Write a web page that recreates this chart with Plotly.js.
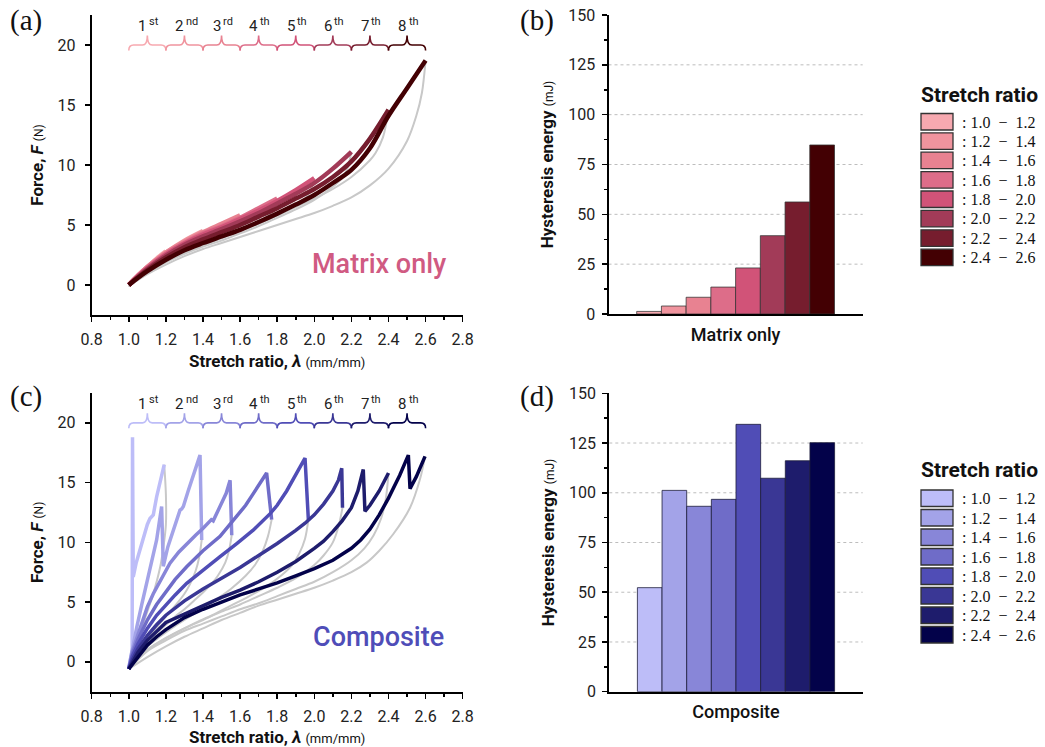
<!DOCTYPE html>
<html>
<head>
<meta charset="utf-8">
<script src="https://cdn.plot.ly/plotly-3.0.1.min.js"></script>
<style>
html,body{margin:0;padding:0;background:#fff;}
#chart{width:1045px;height:747px;}
</style>
</head>
<body>
<div id="chart"></div>
<script>
// ---------------- DATA ----------------
const stretchBounds = [1.0, 1.2, 1.4, 1.6, 1.8, 2.0, 2.2, 2.4, 2.6];
const stretchRanges = ['1.0\u2002\u2212\u20021.2', '1.2\u2002\u2212\u20021.4', '1.4\u2002\u2212\u20021.6', '1.6\u2002\u2212\u20021.8',
                       '1.8\u2002\u2212\u20022.0', '2.0\u2002\u2212\u20022.2', '2.2\u2002\u2212\u20022.4', '2.4\u2002\u2212\u20022.6'];
const cycleNumbers = ['1', '2', '3', '4', '5', '6', '7', '8'];
const cycleSuffixes = ['st', 'nd', 'rd', 'th', 'th', 'th', 'th', 'th'];
const matrixColors = ['#f7a9b0', '#f0949e', '#e88291', '#dd6d89', '#d15378', '#a23b58', '#761d2e', '#430003'];
const compositeColors = ['#bdbdf8', '#a3a3e8', '#8886d8', '#6f6cc8', '#504db6', '#3a3795', '#1e1c6c', '#03024a'];

const matrixEnergy = [1.3, 4.0, 8.4, 13.5, 23.1, 39.3, 56.2, 84.8];
const compositeEnergy = [52.3, 101.2, 93.2, 96.7, 134.4, 107.3, 116.1, 125.2];

// Matrix only: loading curves (coloured)
const matrixLoadLambda = [
  [1.0, 1.05, 1.1, 1.15, 1.2],
  [1.0, 1.05, 1.1, 1.2, 1.3, 1.4],
  [1.0, 1.05, 1.1, 1.2, 1.3, 1.4, 1.5, 1.6],
  [1.0, 1.05, 1.1, 1.2, 1.3, 1.4, 1.5, 1.6, 1.7, 1.8],
  [1.0, 1.05, 1.1, 1.2, 1.3, 1.4, 1.5, 1.6, 1.7, 1.8, 1.9, 2.0],
  [1.0, 1.05, 1.1, 1.2, 1.3, 1.4, 1.5, 1.6, 1.7, 1.8, 1.9, 2.0, 2.1, 2.2],
  [1.0, 1.05, 1.1, 1.2, 1.3, 1.4, 1.5, 1.6, 1.7, 1.8, 1.9, 2.0, 2.1, 2.2, 2.3, 2.4],
  [1.0, 1.05, 1.1, 1.2, 1.3, 1.4, 1.5, 1.6, 1.7, 1.8, 1.9, 2.0, 2.1, 2.2, 2.3, 2.4, 2.5, 2.6]
];
const matrixLoadForce = [
  [0, 0.8, 1.5, 2.2, 2.8],
  [0, 0.8, 1.5, 2.7, 3.7, 4.5],
  [0, 0.8, 1.5, 2.7, 3.6, 4.4, 5.1, 5.8],
  [0, 0.75, 1.45, 2.6, 3.5, 4.3, 4.9, 5.6, 6.4, 7.2],
  [0, 0.75, 1.4, 2.55, 3.45, 4.2, 4.8, 5.5, 6.2, 7.0, 7.9, 8.9],
  [0, 0.7, 1.35, 2.45, 3.35, 4.05, 4.65, 5.3, 6.0, 6.8, 7.6, 8.5, 9.7, 11.1],
  [0, 0.65, 1.25, 2.3, 3.15, 3.8, 4.4, 5.0, 5.7, 6.4, 7.2, 8.0, 9.0, 10.3, 12.2, 14.6],
  [0, 0.6, 1.15, 2.1, 2.9, 3.5, 4.05, 4.6, 5.25, 5.95, 6.7, 7.5, 8.5, 9.6, 11.4, 14.1, 16.4, 18.7]
];
// Matrix only: unloading curves (grey)
const matrixUnloadLambda = [
  [1.2, 1.18, 1.15, 1.1, 1.05, 1.0],
  [1.4, 1.38, 1.35, 1.3, 1.2, 1.1, 1.0],
  [1.6, 1.58, 1.55, 1.5, 1.4, 1.3, 1.2, 1.1, 1.0],
  [1.8, 1.78, 1.75, 1.7, 1.6, 1.5, 1.4, 1.3, 1.2, 1.1, 1.0],
  [2.0, 1.98, 1.95, 1.9, 1.8, 1.7, 1.6, 1.5, 1.4, 1.3, 1.2, 1.1, 1.0],
  [2.2, 2.18, 2.15, 2.1, 2.0, 1.9, 1.8, 1.7, 1.6, 1.5, 1.4, 1.3, 1.2, 1.1, 1.0],
  [2.4, 2.37, 2.33, 2.3, 2.2, 2.1, 2.0, 1.9, 1.8, 1.7, 1.6, 1.5, 1.4, 1.3, 1.2, 1.1, 1.0],
  [2.6, 2.58, 2.55, 2.5, 2.4, 2.3, 2.2, 2.1, 2.0, 1.9, 1.8, 1.7, 1.6, 1.5, 1.4, 1.3, 1.2, 1.1, 1.0]
];
const matrixUnloadForce = [
  [2.8, 2.3, 1.8, 1.2, 0.5, -0.1],
  [4.5, 3.8, 3.3, 2.9, 2.2, 1.2, -0.1],
  [5.8, 5.0, 4.5, 4.1, 3.5, 2.9, 2.2, 1.2, -0.1],
  [7.2, 6.3, 5.8, 5.3, 4.6, 4.0, 3.4, 2.8, 2.1, 1.2, -0.1],
  [8.9, 7.9, 7.2, 6.6, 5.8, 5.1, 4.5, 3.9, 3.3, 2.7, 2.0, 1.1, -0.1],
  [11.1, 9.8, 8.9, 8.2, 7.1, 6.3, 5.6, 4.9, 4.3, 3.7, 3.2, 2.6, 1.9, 1.0, -0.1],
  [14.6, 12.3, 11.0, 10.4, 9.0, 8.0, 7.2, 6.5, 5.8, 5.2, 4.6, 4.0, 3.4, 2.7, 1.9, 1.0, -0.1],
  [18.7, 16.0, 14.1, 12.0, 9.7, 8.3, 7.3, 6.6, 6.0, 5.5, 5.0, 4.5, 4.0, 3.5, 3.0, 2.4, 1.7, 0.9, -0.1]
];

// Composite: loading curves (coloured)
const compLoadLambda = [
  [1.0, 1.018, 1.02, 1.022, 1.024, 1.04, 1.06, 1.08, 1.10, 1.114, 1.122, 1.132, 1.15, 1.17, 1.191],
  [1.0, 1.02, 1.043, 1.07, 1.097, 1.125, 1.15, 1.177, 1.186, 1.21, 1.24, 1.276, 1.285, 1.294, 1.32, 1.339, 1.36, 1.384, 1.393],
  [1.0, 1.02, 1.05, 1.1, 1.132, 1.18, 1.222, 1.27, 1.312, 1.36, 1.402, 1.43, 1.445, 1.455, 1.5, 1.525, 1.546, 1.555],
  [1.0, 1.02, 1.05, 1.1, 1.15, 1.2, 1.25, 1.312, 1.4, 1.492, 1.582, 1.63, 1.672, 1.71, 1.743, 1.77],
  [1.0, 1.02, 1.05, 1.1, 1.15, 1.2, 1.25, 1.312, 1.4, 1.492, 1.582, 1.672, 1.762, 1.8, 1.851, 1.9, 1.95, 1.968],
  [1.0, 1.02, 1.05, 1.1, 1.15, 1.2, 1.3, 1.4, 1.5, 1.6, 1.7, 1.8, 1.9, 1.95, 2.0, 2.05, 2.1, 2.13, 2.148, 2.152],
  [1.0, 1.02, 1.05, 1.1, 1.15, 1.2, 1.3, 1.4, 1.5, 1.6, 1.7, 1.8, 1.9, 2.0, 2.05, 2.1, 2.15, 2.2, 2.235, 2.264, 2.273, 2.3, 2.35, 2.40],
  [1.0, 1.02, 1.05, 1.1, 1.15, 1.2, 1.3, 1.4, 1.5, 1.6, 1.7, 1.8, 1.9, 2.0, 2.1, 2.2, 2.25, 2.3, 2.35, 2.4, 2.46, 2.507, 2.516, 2.55, 2.597]
];
const compLoadForce = [
  [-0.5, 1.0, 18.8, 10.0, 7.1, 8.3, 9.4, 10.5, 11.5, 12.0, 12.1, 12.3, 13.8, 15.2, 16.5],
  [-0.5, 1.2, 2.9, 4.8, 6.6, 8.4, 10.2, 13.0, 8.0, 9.6, 11.0, 12.7, 12.8, 13.0, 14.3, 15.2, 16.2, 17.3, 10.2],
  [-0.6, 0.9, 2.3, 4.6, 5.7, 7.1, 8.25, 9.2, 9.9, 10.6, 11.2, 11.6, 11.9, 11.8, 13.2, 14.1, 15.2, 10.6],
  [-0.6, 0.7, 1.9, 3.5, 4.8, 5.9, 6.9, 7.96, 9.3, 10.5, 12.15, 13.1, 14.1, 15.0, 15.8, 11.9],
  [-0.6, 0.5, 1.5, 2.8, 3.9, 4.8, 5.6, 6.57, 7.7, 8.8, 9.9, 11.04, 12.4, 13.1, 14.3, 15.6, 17.05, 11.9],
  [-0.6, 0.2, 1.1, 2.2, 3.1, 3.9, 5.1, 6.1, 7.0, 7.9, 8.9, 9.9, 11.0, 11.6, 12.3, 13.2, 14.3, 15.2, 16.2, 12.9],
  [-0.6, 0.0, 0.8, 1.8, 2.6, 3.3, 4.0, 4.7, 5.4, 6.0, 6.7, 7.5, 8.4, 9.5, 10.1, 10.9, 11.8, 12.9, 14.3, 16.1, 12.6, 13.1, 14.3, 15.8],
  [-0.6, -0.2, 0.5, 1.4, 2.1, 2.7, 3.7, 4.4, 5.0, 5.6, 6.1, 6.6, 7.2, 7.8, 8.5, 9.5, 10.2, 11.1, 12.3, 13.7, 15.6, 17.3, 14.5, 15.5, 17.2]
];
// Composite: unloading curves (grey)
const compUnloadLambda = [
  [1.191, 1.2, 1.2, 1.19, 1.17, 1.13, 1.08, 1.04, 1.0],
  [1.393, 1.38, 1.36, 1.33, 1.3, 1.25, 1.2, 1.15, 1.1, 1.05, 1.0],
  [1.555, 1.54, 1.52, 1.48, 1.45, 1.4, 1.35, 1.3, 1.25, 1.2, 1.15, 1.1, 1.05, 1.0],
  [1.77, 1.75, 1.72, 1.68, 1.63, 1.55, 1.45, 1.35, 1.25, 1.15, 1.08, 1.0],
  [1.968, 1.95, 1.92, 1.88, 1.82, 1.75, 1.65, 1.55, 1.45, 1.35, 1.25, 1.15, 1.08, 1.0],
  [2.152, 2.13, 2.1, 2.05, 2.0, 1.9, 1.8, 1.7, 1.6, 1.5, 1.4, 1.3, 1.2, 1.1, 1.0],
  [2.40, 2.385, 2.36, 2.32, 2.27, 2.2, 2.1, 2.0, 1.9, 1.8, 1.7, 1.6, 1.5, 1.4, 1.3, 1.2, 1.1, 1.0],
  [2.597, 2.57, 2.516, 2.426, 2.35, 2.282, 2.2, 2.1, 2.0, 1.9, 1.8, 1.7, 1.6, 1.5, 1.4, 1.3, 1.2, 1.1, 1.0]
];
const compUnloadForce = [
  [16.5, 14.0, 11.5, 10.0, 8.0, 5.6, 3.3, 1.3, -0.6],
  [10.2, 8.8, 7.6, 6.5, 5.7, 4.7, 3.8, 2.9, 1.9, 0.8, -0.6],
  [10.6, 9.3, 8.3, 7.2, 6.6, 5.8, 5.1, 4.4, 3.8, 3.1, 2.4, 1.6, 0.6, -0.6],
  [11.9, 10.5, 9.2, 8.1, 7.2, 6.1, 5.0, 4.0, 3.0, 1.9, 1.0, -0.6],
  [11.9, 10.3, 9.1, 8.1, 7.2, 6.4, 5.5, 4.7, 3.9, 3.2, 2.4, 1.5, 0.8, -0.6],
  [12.9, 11.3, 10.0, 8.9, 8.1, 7.0, 6.2, 5.5, 4.8, 4.2, 3.5, 2.8, 2.0, 1.0, -0.6],
  [15.8, 13.6, 12.0, 10.6, 9.5, 8.5, 7.5, 6.7, 6.1, 5.5, 4.9, 4.4, 3.8, 3.2, 2.6, 1.8, 0.9, -0.6],
  [17.2, 15.3, 12.9, 10.7, 9.3, 8.3, 7.5, 6.8, 6.2, 5.7, 5.2, 4.7, 4.1, 3.5, 2.8, 2.1, 1.3, 0.4, -0.6]
];

const forceTicks = [0, 5, 10, 15, 20];
const energyTicks = [0, 25, 50, 75, 100, 125, 150];
const energyGrid = [25, 50, 75, 100, 125];

// ---------------- LAYOUT HELPERS ----------------
const W = 1045, H = 747;
const px = v => v / W;
const py = v => 1 - v / H;
const ROBOTO = 'Roboto, sans-serif';
const SERIF = 'Liberation Serif, Times New Roman, serif';
const TICKFONT = {family: ROBOTO, size: 16, color: '#222'};
const GREY = '#c8c8c8';

const traces = [];
function addCurves(lamArr, forceArr, colors, width, xa, ya, shape) {
  lamArr.forEach((lam, i) => {
    traces.push({
      type: 'scatter', mode: 'lines', x: lam, y: forceArr[i],
      xaxis: xa, yaxis: ya, showlegend: false, hoverinfo: 'skip',
      line: {color: Array.isArray(colors) ? colors[i] : colors, width: width, shape: shape, smoothing: 0.9}
    });
  });
}
addCurves(matrixUnloadLambda, matrixUnloadForce, GREY, 2, 'x', 'y', 'spline');
addCurves(matrixLoadLambda, matrixLoadForce, matrixColors, 4.5, 'x', 'y', 'spline');
addCurves(compUnloadLambda, compUnloadForce, GREY, 2, 'x3', 'y3', 'spline');
addCurves(compLoadLambda, compLoadForce, compositeColors, 3.5, 'x3', 'y3', 'linear');

const barX = matrixEnergy.map((_, i) => i + 1);
traces.push({type: 'bar', x: barX, y: matrixEnergy, width: 1, xaxis: 'x2', yaxis: 'y2',
  marker: {color: matrixColors, line: {color: 'rgba(50,50,50,0.75)', width: 1}},
  showlegend: false, hoverinfo: 'skip'});
traces.push({type: 'bar', x: barX, y: compositeEnergy, width: 1, xaxis: 'x4', yaxis: 'y4',
  marker: {color: compositeColors, line: {color: 'rgba(30,30,60,0.8)', width: 1}},
  showlegend: false, hoverinfo: 'skip'});

function forceXAxis(domain, anchor) {
  return {
    domain: domain, anchor: anchor, range: [0.8, 2.8], tick0: 0.8, dtick: 0.2, tickformat: '.1f',
    ticks: 'outside', ticklen: 5, tickwidth: 1.5, tickcolor: '#000',
    minor: {dtick: 0.1, ticks: 'outside', ticklen: 3, tickwidth: 1.5, tickcolor: '#000'},
    showline: true, linecolor: '#000', linewidth: 2, showgrid: false, zeroline: false,
    tickfont: TICKFONT, ticklabelstandoff: 4,
    title: {text: '<b>Stretch ratio, <i>\u03bb</i></b> <span style="font-size:13px">(mm/mm)</span>',
            font: {family: ROBOTO, size: 17, color: '#111'}, standoff: 7}
  };
}
function forceYAxis(domain, anchor) {
  return {
    domain: domain, anchor: anchor, range: [-2.5, 22.5], tickvals: forceTicks,
    ticks: 'outside', ticklen: 5, tickwidth: 1.5, tickcolor: '#000',
    showline: true, linecolor: '#000', linewidth: 2, showgrid: false, zeroline: false,
    tickfont: TICKFONT, ticklabelstandoff: 6,
    title: {text: '<b>Force, <i>F</i></b> <span style="font-size:12px">(N)</span>',
            font: {family: ROBOTO, size: 17, color: '#111'}, standoff: 10}
  };
}
function barXAxis(domain, anchor, label) {
  return {
    domain: domain, anchor: anchor, range: [-0.64, 9.64], showticklabels: false, ticks: '',
    showline: true, linecolor: '#000', linewidth: 2, showgrid: false, zeroline: false,
    title: {text: label, font: {family: ROBOTO, size: 18, color: '#111', weight: 500}, standoff: 13}
  };
}
function barYAxis(domain, anchor) {
  return {
    domain: domain, anchor: anchor, range: [0, 150], tickvals: energyTicks,
    ticks: 'outside', ticklen: 5, tickwidth: 1.5, tickcolor: '#000',
    minor: {dtick: 12.5, tick0: 0, ticks: 'outside', ticklen: 3, tickwidth: 1.5, tickcolor: '#000'},
    showline: true, linecolor: '#000', linewidth: 2, showgrid: false, zeroline: false,
    tickfont: TICKFONT, ticklabelstandoff: 3,
    title: {text: '<b>Hysteresis energy</b> <span style="font-size:12px">(mJ)</span>',
            font: {family: ROBOTO, size: 17, color: '#111'}, standoff: 10}
  };
}

const shapes = [];
const annotations = [];

// Braces and cycle labels
function bracePath(x0, x1, yb, ym, yt) {
  const xc = (x0 + x1) / 2, d = (x1 - x0) * 0.13;
  return `M${x0},${yb} Q${x0},${ym} ${x0 + d},${ym} L${xc - d},${ym} Q${xc},${ym} ${xc},${yt} ` +
         `Q${xc},${ym} ${xc + d},${ym} L${x1 - d},${ym} Q${x1},${ym} ${x1},${yb}`;
}
function addBraces(colors, xr, yr) {
  for (let i = 0; i < stretchBounds.length - 1; i++) {
    const a = stretchBounds[i], b = stretchBounds[i + 1], mid = (a + b) / 2;
    shapes.push({type: 'path', xref: xr, yref: yr, path: bracePath(a, b, 19.55, 20.0, 20.8),
      line: {color: colors[i], width: 1.6}, fillcolor: 'rgba(0,0,0,0)', layer: 'above'});
    annotations.push({xref: xr, yref: yr, x: mid, y: 21.6, text: cycleNumbers[i], showarrow: false,
      xanchor: 'right', yanchor: 'middle', xshift: 0, borderpad: 0,
      font: {family: ROBOTO, size: 15, color: '#222'}});
    annotations.push({xref: xr, yref: yr, x: mid, y: 21.6, text: cycleSuffixes[i], showarrow: false,
      xanchor: 'left', yanchor: 'middle', xshift: 0.5, yshift: 4, borderpad: 0,
      font: {family: ROBOTO, size: 11, color: '#222'}});
  }
}
addBraces(matrixColors, 'x', 'y');
addBraces(compositeColors, 'x3', 'y3');

// Dotted gridlines in bar panels
energyGrid.forEach(g => {
  ['2', '4'].forEach(k => {
    shapes.push({type: 'line', xref: 'x' + k + ' domain', yref: 'y' + k, x0: 0, x1: 1, y0: g, y1: g,
      line: {color: '#bdbdbd', width: 1, dash: 'dot'}, layer: 'below'});
  });
});

// Legends (drawn)
function addLegend(colors, titleY, rectTops) {
  annotations.push({xref: 'paper', yref: 'paper', x: px(979), y: py(titleY), text: '<b>Stretch ratio</b>',
    showarrow: false, xanchor: 'center', yanchor: 'middle',
    font: {family: ROBOTO, size: 21, color: '#111'}});
  colors.forEach((c, i) => {
    const t = rectTops[i];
    shapes.push({type: 'rect', xref: 'paper', yref: 'paper', x0: px(921), x1: px(953), y0: py(t + 16.5), y1: py(t),
      fillcolor: c, line: {color: '#333', width: 1.3}});
    annotations.push({xref: 'paper', yref: 'paper', x: px(960), y: py(t + 8.5), text: ': ' + stretchRanges[i],
      showarrow: false, xanchor: 'left', yanchor: 'middle',
      font: {family: SERIF, size: 16, color: '#111'}});
  });
}
addLegend(matrixColors, 95, [113.5, 132.8, 152.2, 171.6, 191, 210.4, 229.8, 249.2]);
addLegend(compositeColors, 470, [490, 509.5, 529, 548.5, 568, 587.5, 607, 626.5]);

// Panel letters
[['(a)', 26, 20], ['(b)', 537, 20], ['(c)', 26, 397], ['(d)', 537, 397]].forEach(p => {
  annotations.push({xref: 'paper', yref: 'paper', x: px(p[1]), y: py(p[2]), text: p[0], showarrow: false,
    xanchor: 'center', yanchor: 'middle',
    font: {family: SERIF, size: 29, color: '#111'}});
});

// In-plot labels
annotations.push({xref: 'x', yref: 'y', x: 2.35, y: 1.75, text: 'Matrix only', showarrow: false,
  font: {family: ROBOTO, size: 27, color: '#d05a82', weight: 500}});
annotations.push({xref: 'x3', yref: 'y3', x: 2.345, y: 2.05, text: 'Composite', showarrow: false,
  font: {family: ROBOTO, size: 27, color: '#4f4db8', weight: 500}});

const layout = {
  width: W, height: H, margin: {l: 0, r: 0, t: 0, b: 0},
  paper_bgcolor: '#fff', plot_bgcolor: 'rgba(0,0,0,0)',
  showlegend: false, hovermode: false, barmode: 'overlay',
  font: {family: ROBOTO, color: '#111'},
  xaxis: forceXAxis([px(91.7), px(462.7)], 'y'),
  yaxis: forceYAxis([py(315), py(15)], 'x'),
  xaxis2: barXAxis([px(608.5), px(862.7)], 'y2', 'Matrix only'),
  yaxis2: barYAxis([py(314), py(15)], 'x2'),
  xaxis3: forceXAxis([px(91.7), px(462.7)], 'y3'),
  yaxis3: forceYAxis([py(691.7), py(393)], 'x3'),
  xaxis4: barXAxis([px(609.3), px(862.7)], 'y4', 'Composite'),
  yaxis4: barYAxis([py(691.7), py(393.3)], 'x4'),
  shapes: shapes, annotations: annotations
};

Plotly.newPlot('chart', traces, layout, {staticPlot: true, displayModeBar: false});
</script>
</body>
</html>
